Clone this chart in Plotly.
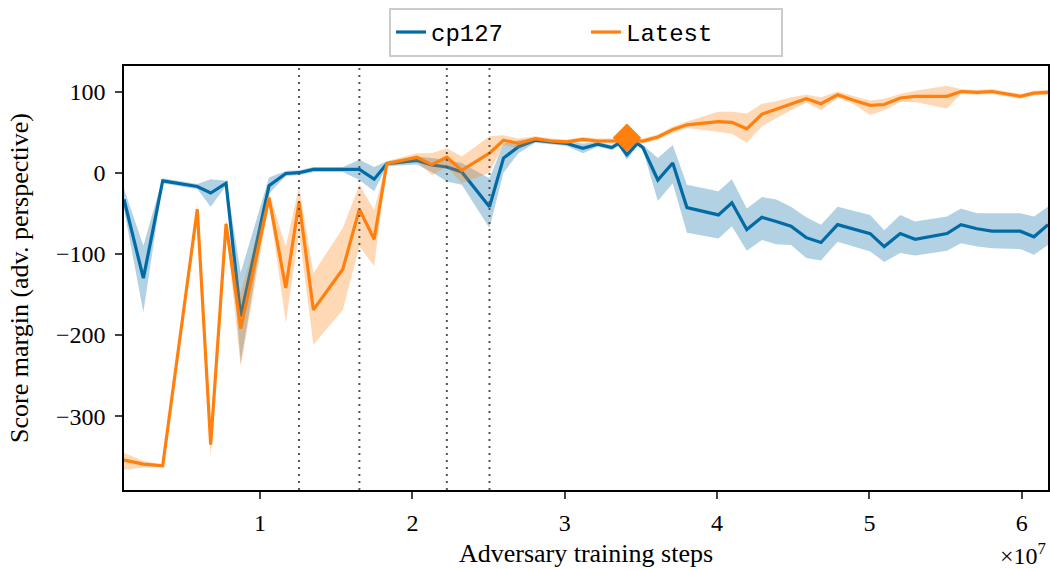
import plotly.graph_objects as go

# adversary training steps (x 1e7)
steps = [0.107, 0.234, 0.361, 0.588, 0.676, 0.777, 0.873, 1.059, 1.169, 1.256,
         1.35, 1.543, 1.652, 1.749, 1.832, 2.029, 2.127, 2.226, 2.324, 2.506,
         2.598, 2.696, 2.806, 2.91, 3.014, 3.119, 3.215, 3.309, 3.353, 3.408,
         3.477, 3.513, 3.611, 3.709, 3.802, 4.009, 4.097, 4.195, 4.294, 4.388,
         4.485, 4.585, 4.682, 4.791, 4.9, 5.005, 5.097, 5.202, 5.30, 5.509,
         5.601, 5.706, 5.804, 5.99, 6.08, 6.172]

cp127 = [-33, -130, -10, -17, -25, -13, -177, -16, -1, 0,
         4, 4, 4, -8, 11, 15, 9.5, 7, 1, -42,
         18, 32, 40, 38, 36, 30, 35, 31, 36, 22,
         36, 31, -9, 12, -43, -52, -37, -70, -55, -60,
         -66, -80, -86, -64, -70, -75, -91, -75, -82, -75,
         -64, -69, -72, -72, -79, -64]
cp127_lo = [-45, -172, -13, -20, -42, -16, -234, -26, -4, -3,
            1, 1, -9, -23, 8, 10, 1, -11, -15, -68,
            0, 24, 37, 35, 33, 24, 32, 28, 33, 16,
            33, 28, -35, -13, -74, -81, -66, -96, -83, -88,
            -89, -105, -108, -85, -91, -97, -110, -99, -102, -96,
            -87, -91, -93, -94, -101, -89]
cp127_hi = [-20, -90, -7, -14, -8, -10, -123, -6, 2, 3,
            7, 7, 16, 7, 14, 20, 18, 16, 12, -7,
            36, 40, 43, 41, 39, 36, 38, 34, 39, 28,
            39, 34, 18, 34, -15, -23, -8, -44, -30, -33,
            -42, -55, -64, -42, -47, -52, -71, -52, -60, -54,
            -44, -50, -50, -50, -54, -42]

latest = [-354, -359, -361, -45, -335, -63, -192, -31, -142, -36,
          -169, -119, -45, -82, 11, 19, 10, 19, 3, 24,
          40, 36, 42, 39, 38, 41, 39, 39, 39, 40,
          39, 39, 44, 53, 59, 63, 62, 54, 72, 78,
          85, 91, 85, 96, 89, 83, 84, 92, 94, 94,
          100, 99, 100, 94, 98, 99]
latest_lo = [-366, -363, -363, -50, -350, -68, -239, -38, -185, -74,
             -212, -169, -91, -115, 8, 14, -3, 7, -13, 0,
             34, 30, 39, 36, 35, 38, 36, 36, 36, 37,
             36, 36, 41, 49, 55, 50, 48, 37, 57, 67,
             77, 86, 77, 92, 84, 71, 77, 87, 87, 79,
             97, 96, 97, 91, 95, 96]
latest_hi = [-345, -355, -359, -38, -322, -58, -148, -24, -91, -17,
             -124, -68, -15, -46, 14, 24, 24, 30, 20, 45,
             46, 42, 45, 42, 41, 44, 42, 42, 42, 43,
             42, 42, 47, 57, 63, 75, 75, 73, 85, 88,
             93, 96, 93, 100, 94, 89, 91, 97, 101, 107,
             103, 102, 103, 97, 101, 102]

switch_steps = [1.256, 1.652, 2.226, 2.506]
marker_step = 3.408
marker_value = 43

x = [s * 1e7 for s in steps]

series = [
    ('cp127', cp127, cp127_lo, cp127_hi, '#006BA4', 'rgba(0, 107, 164, 0.3)'),
    ('Latest', latest, latest_lo, latest_hi, '#FF800E', 'rgba(255, 128, 14, 0.3)'),
]

serif = 'Liberation Serif'

fig = go.Figure()
for name, y, lo, hi, color, band in series:
    fig.add_trace(go.Scatter(x=x + x[::-1],
                             y=hi + lo[::-1],
                             fill='toself',
                             fillcolor=band,
                             line=dict(width=0, color='rgba(0,0,0,0)'),
                             hoverinfo='skip',
                             showlegend=False))
    fig.add_trace(go.Scatter(x=x, y=y, name=name, mode='lines',
                             line=dict(color=color, width=3.2)))

fig.add_trace(go.Scatter(x=[marker_step * 1e7], y=[marker_value], mode='markers',
                         marker=dict(symbol='diamond', size=22, color='#FF800E'),
                         showlegend=False))

for s in switch_steps:
    fig.add_shape(type='line', xref='x', yref='paper', x0=s * 1e7, x1=s * 1e7, y0=0, y1=1,
                  line=dict(color='#555555', width=2, dash='2px,5px'))

fig.update_layout(
    width=1050, height=570,
    plot_bgcolor='white',
    paper_bgcolor='white',
    margin=dict(l=124, r=2, t=66, b=80),
    font=dict(family=serif, size=24, color='black'),
    legend=dict(orientation='h', x=0.5, xanchor='center', y=1.137, yanchor='top',
                font=dict(family='Liberation Mono', size=24, color='black'),
                bordercolor='#cccccc', borderwidth=2, bgcolor='white',
                entrywidth=150),
    annotations=[dict(text='×10<sup>7</sup>', xref='paper', yref='paper', x=1.0, y=-0.112,
                      xanchor='right', yanchor='top', showarrow=False,
                      font=dict(family=serif, size=24, color='black'))]
)
fig.update_xaxes(
    range=[0.107e7, 6.172e7],
    tickvals=[1e7, 2e7, 3e7, 4e7, 5e7, 6e7],
    ticktext=['1', '2', '3', '4', '5', '6'],
    title=dict(text='Adversary training steps', standoff=9,
               font=dict(family=serif, size=26, color='black')),
    ticks='outside', ticklen=7, tickwidth=1.5, ticklabelstandoff=3,
    showline=True, linecolor='black', linewidth=1.5, mirror=True,
    showgrid=False, zeroline=False, automargin=False
)
fig.update_yaxes(
    range=[-390.8, 131.4],
    tickvals=[100, 0, -100, -200, -300],
    title=dict(text='Score margin (adv. perspective)', standoff=20,
               font=dict(family=serif, size=26, color='black')),
    ticks='outside', ticklen=7, tickwidth=1.5, ticklabelstandoff=5,
    showline=True, linecolor='black', linewidth=1.5, mirror=True,
    showgrid=False, zeroline=False, automargin=False
)

fig.write_html('out.html', config={'displayModeBar': False},
               post_script="document.body.style.margin='0';")
